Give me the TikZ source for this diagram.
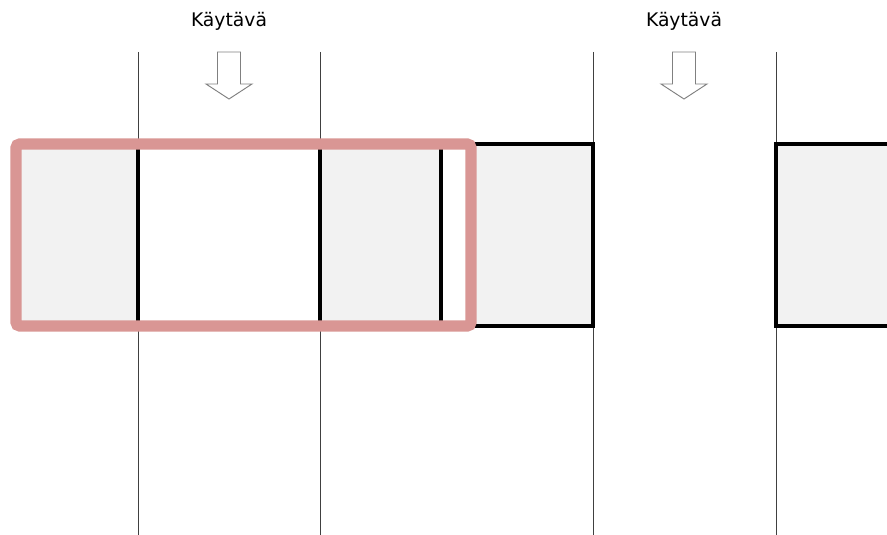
\documentclass[tikz,border=0pt]{standalone}
\usepackage{fontspec}
\setmainfont{DejaVu Sans}

\definecolor{boxgray}{HTML}{F2F2F2}
\definecolor{hlred}{HTML}{D99694}
\definecolor{arrgray}{HTML}{808080}

\begin{document}
\begin{tikzpicture}[
  x=0.03cm, y=-0.03cm,
  lbl/.style={font=\fontsize{16}{19}\selectfont, inner sep=0pt, anchor=base},
  wall/.style={line width=0.7pt, black!75},
  shelf/.style={draw=black, line width=2.6pt, fill=boxgray},
  flow/.style={draw=arrgray, fill=white, line width=0.8pt, line join=miter},
  hl/.style={draw=hlred, line width=9.4pt, rounded corners=3pt},
]

\def\TOP{144}   % top of shelf row
\def\BOT{326}   % bottom of shelf row
\def\SW{11.5}   % half width of arrow shaft
\def\HW{23}     % half width of arrow head

\clip (0,0) rectangle (887,535);

% ── Corridor walls ──
\foreach \x in {138,320,593,776}
  \draw[wall] (\x,52) -- (\x,535);

% ── Shelves ──
\draw[shelf] (16,\TOP) rectangle (138,\BOT);
\draw[shelf] (320,\TOP) rectangle (441,\BOT);
\draw[shelf] (471,\TOP) rectangle (593,\BOT);
\draw[shelf] (776,\TOP) rectangle (900,\BOT);

% ── Corridor labels and arrows ──
\node[lbl] (k1) at (229,27) {Käytävä};
\node[lbl] (k2) at (684,27) {Käytävä};
\foreach \x in {229,684}
  \draw[flow] (\x-\SW,52) -- (\x+\SW,52) -- (\x+\SW,84) -- (\x+\HW,84)
    -- (\x,99) -- (\x-\HW,84) -- (\x-\SW,84) -- cycle;

% ── Highlight ──
\draw[hl] (16,\TOP) rectangle (471,\BOT);

\end{tikzpicture}
\end{document}
